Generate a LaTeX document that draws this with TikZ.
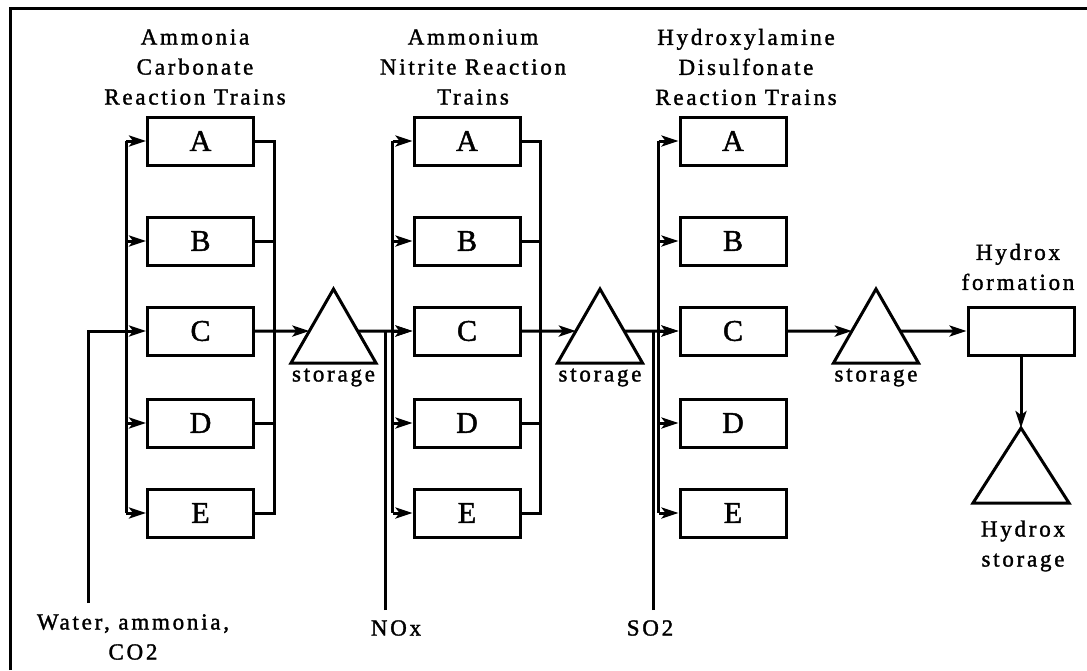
\documentclass[tikz,border=0pt]{standalone}
\usepackage{fontspec}
\setmainfont{Liberation Serif}[LetterSpace=12,FakeBold=1.5]
\usetikzlibrary{calc,arrows.meta}

\begin{document}
\begin{tikzpicture}[>={Stealth[length=17pt,width=11pt,inset=4pt]},x=1pt,y=-1pt,line width=3pt,
	train/.style={draw,rectangle,inner sep=0pt,minimum width=106pt,minimum height=48pt,font=\fontsize{30}{30}\selectfont},
	lbl/.style={align=center,inner sep=0pt,font=\fontsize{23}{30}\selectfont}]

\useasboundingbox (0,0) rectangle (1087,670);
\draw (10,670) |- (1087,8);

% reaction trains with feed bus
\foreach \c/\x in {1/200.5,2/467,3/733} {
	\foreach \r/\y in {A/141,B/241,C/331,D/423,E/513} {
		\node [train] (t\c-\r) at (\x,\y) {\r};
	}
	\coordinate (in\c-A) at ($(t\c-A.west)+(-20,0)$);
	\coordinate (in\c-E) at ($(t\c-E.west)+(-20,0)$);
	\draw (in\c-A) -- (in\c-E);
	\foreach \r in {A,B,C,D,E} {
		\draw [->] (t\c-\r.west -| in\c-A) -- (t\c-\r.west);
	}
}

% collecting bus
\foreach \c in {1,2} {
	\coordinate (out\c-E) at ($(t\c-E.east)+(19,0)$);
	\draw (t\c-A.east) -| (out\c-E) -- (t\c-E.east);
	\draw (t\c-B.east) -- (t\c-B.east -| out\c-E);
	\draw (t\c-D.east) -- (t\c-D.east -| out\c-E);
}

% storage tanks
\foreach \s/\x in {1/333.5,2/600,3/876} {
	\coordinate (s\s-top) at (\x,289);
	\coordinate (s\s-l) at (\x-42.5,363);
	\coordinate (s\s-r) at (\x+42.5,363);
	\draw (s\s-top) -- (s\s-l) -- (s\s-r) -- cycle;
	\coordinate (s\s-in) at ($(s\s-top)!0.568!(s\s-l)$);
	\coordinate (s\s-out) at ($(s\s-top)!0.568!(s\s-r)$);
	\node [lbl,anchor=north] (s\s-txt) at ($(s\s-l)!0.5!(s\s-r)+(0,4)$) {storage};
	\draw [->] (t\s-C.east) -- (s\s-in);
}

\node [train] (hf) at (1021,331) {};
\node [lbl] (hf-txt) at (1018,267) {Hydrox\\formation};

\draw [->] (s1-out) -- (t2-C.west);
\draw [->] (s2-out) -- (t3-C.west);
\draw [->] (s3-out) -- (hf.west);

% final storage
\coordinate (s4-top) at (1021,428);
\coordinate (s4-l) at (973,503);
\coordinate (s4-r) at (1069,503);
\draw (s4-top) -- (s4-l) -- (s4-r) -- cycle;
\draw [->] (hf.south) -- (s4-top);
\node [lbl] (s4-txt) at (1023,546) {Hydrox\\storage};

% headers
\node [lbl] (h1) at (195,67) {Ammonia\\Carbonate\\Reaction Trains};
\node [lbl] (h2) at (473,67) {Ammonium\\Nitrite Reaction\\Trains};
\node [lbl] (h3) at (746,67) {Hydroxylamine\\Disulfonate\\Reaction Trains};

% raw material feeds
\node [lbl] (feed) at (133,637) {Water, ammonia,\\CO2};
\coordinate (feed-in) at (88,603);
\draw (feed-in) |- (in1-A |- t1-C.west);

\node [lbl] (nox) at (396,628) {NOx};
\coordinate (nox-in) at (385,610);
\draw (nox-in) -- (nox-in |- s1-out);

\node [lbl] (so2) at (650,628) {SO2};
\coordinate (so2-in) at (653,610);
\draw (so2-in) -- (so2-in |- s2-out);

\end{tikzpicture}
\end{document}
